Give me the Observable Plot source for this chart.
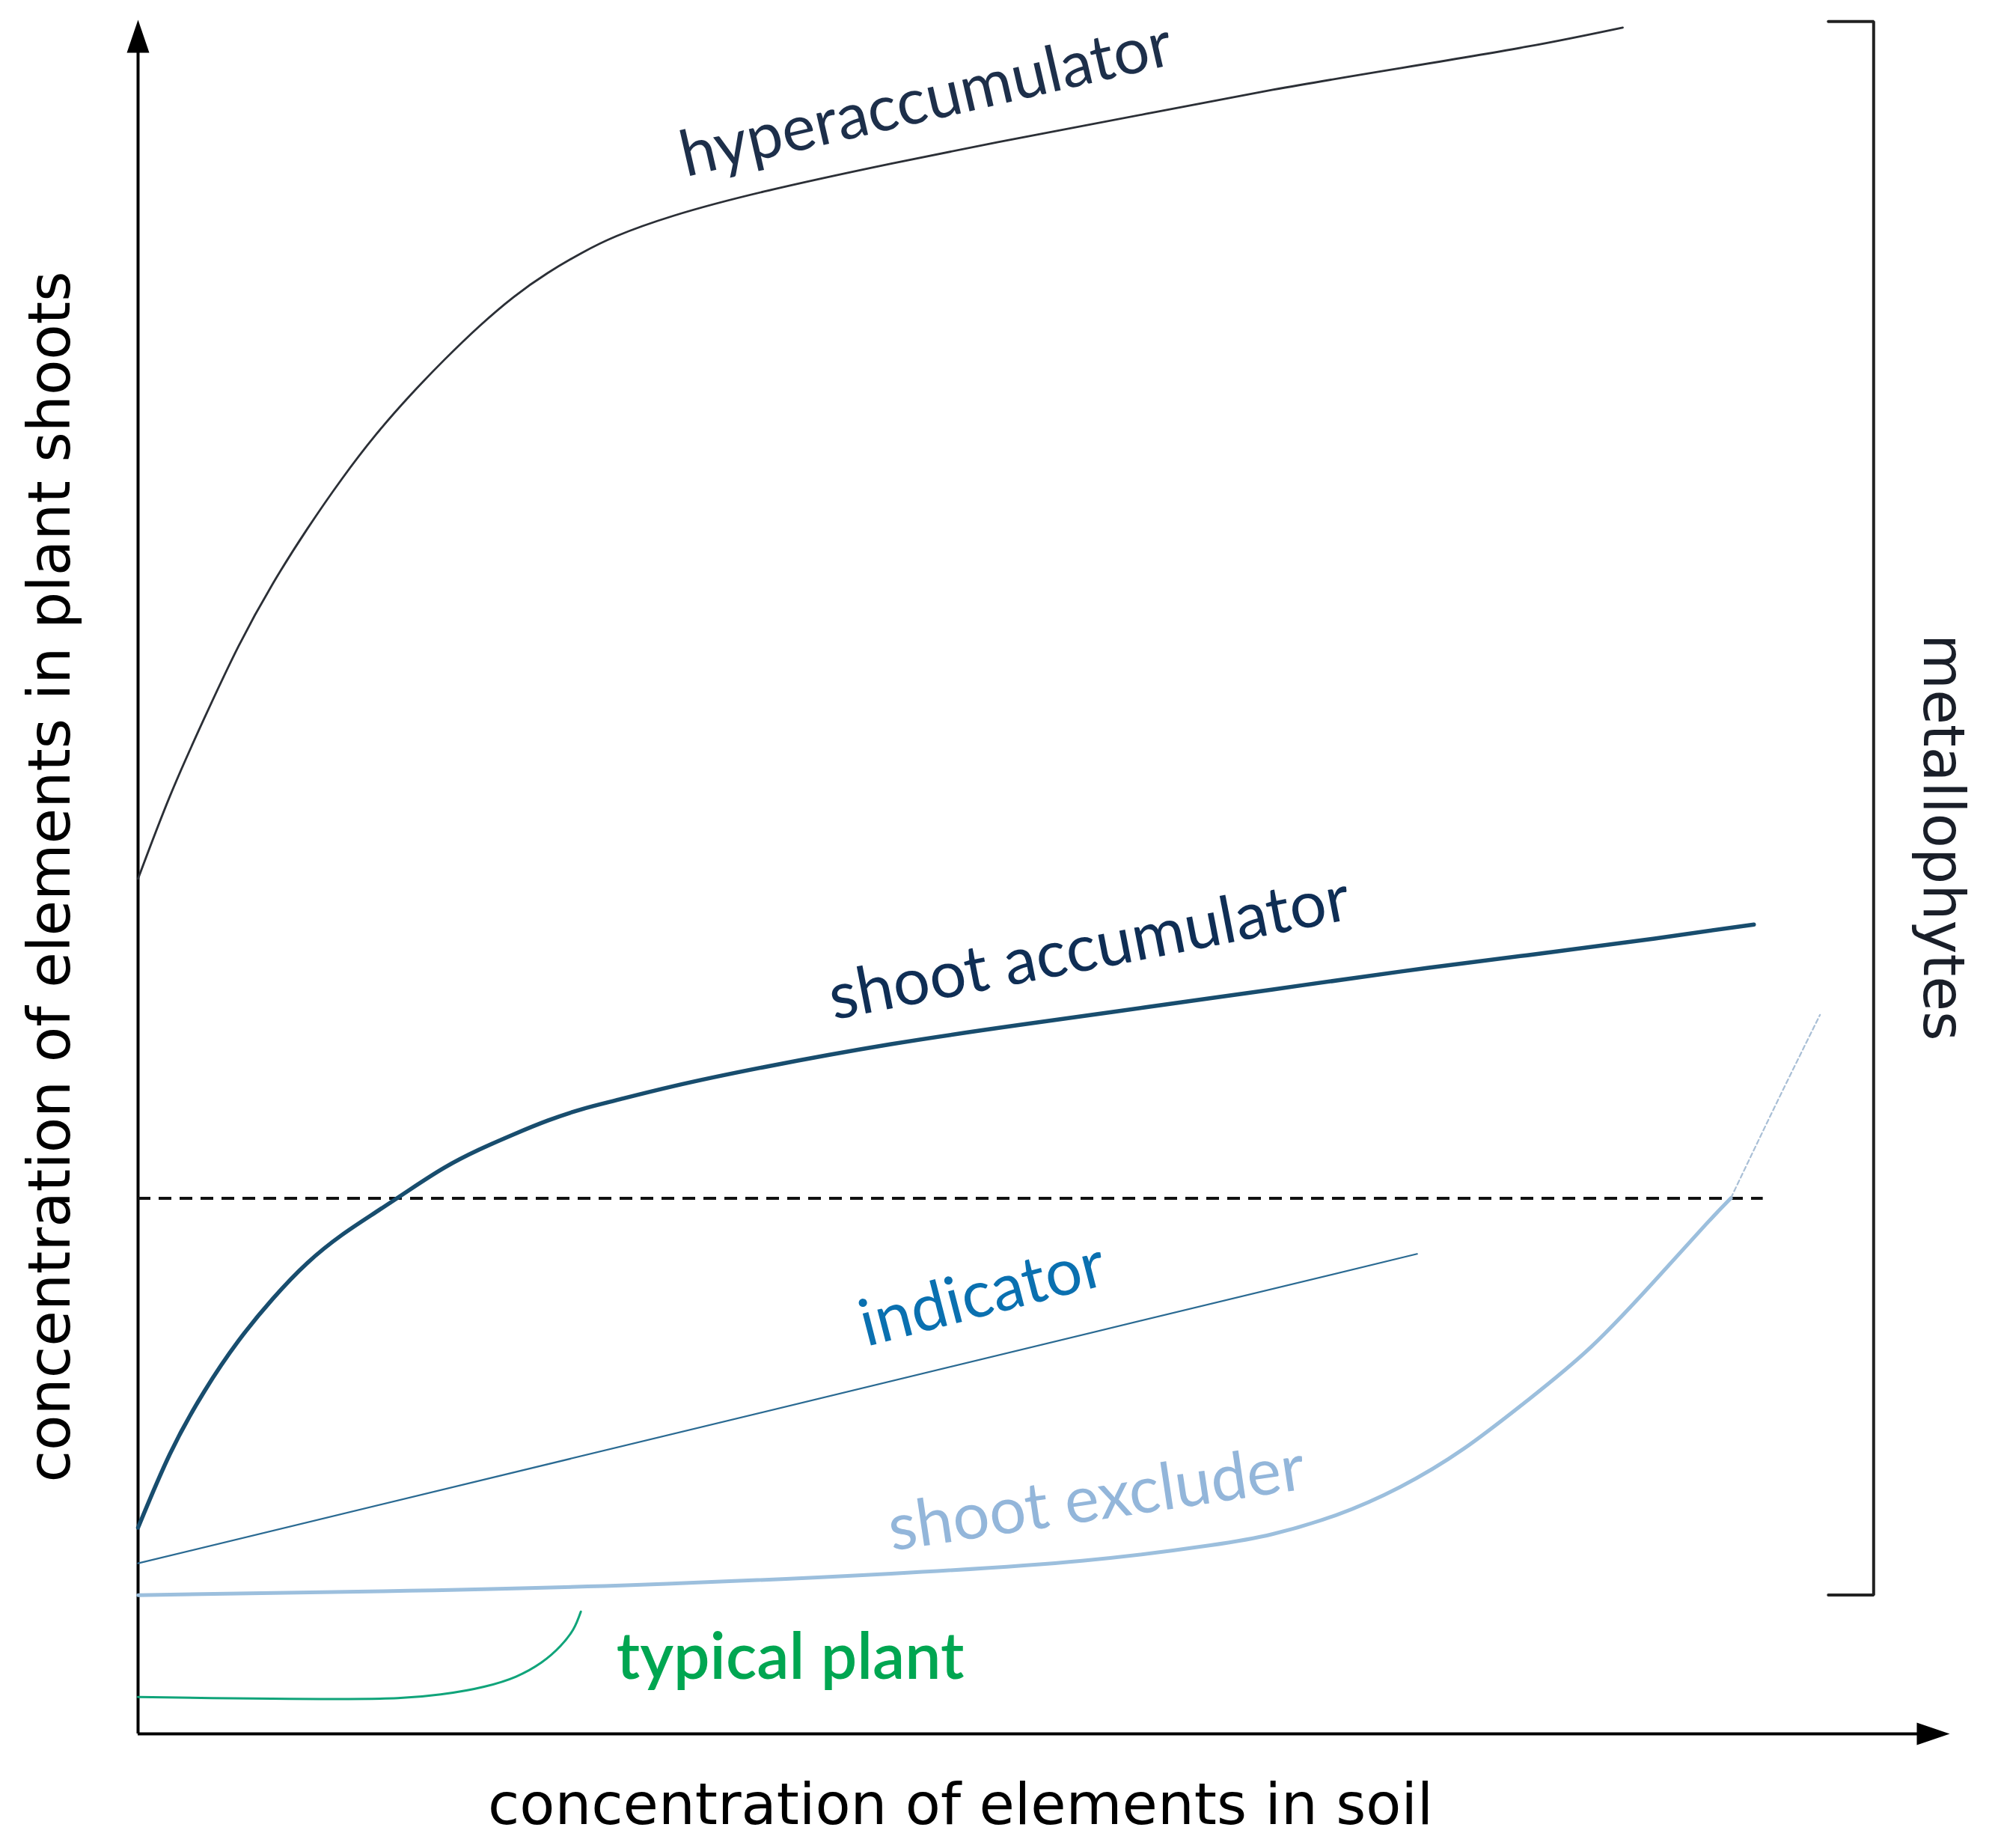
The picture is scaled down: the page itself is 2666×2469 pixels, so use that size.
<!DOCTYPE html>
<html>
<head>
<meta charset="utf-8">
<script src="https://cdn.jsdelivr.net/npm/d3@7"></script>
<script src="https://cdn.jsdelivr.net/npm/@observablehq/plot@0.6"></script>
<style>
  html, body { margin: 0; padding: 0; background: #ffffff; }
  #chart svg { display: block; }
</style>
</head>
<body>
<div id="chart"></div>
<script>
// ---- data (abstract units: 0..100 on both axes) ----
const hyperX = [0, 1.76, 3.65, 5.55, 7.44, 9.34, 11.24, 13.13, 15.03, 16.92, 18.82, 20.72, 22.61, 24.51, 26.40, 29.56, 34.55, 41.57, 48.60, 55.62, 62.64, 69.66, 76.69, 81.95];
const hyperY = [49.89, 54.71, 59.24, 63.47, 67.11, 70.30, 73.20, 75.80, 78.10, 80.18, 82.11, 83.82, 85.23, 86.41, 87.38, 88.57, 89.98, 91.61, 93.10, 94.51, 95.92, 97.18, 98.44, 99.55];

const accX = [0, 1.76, 3.65, 5.55, 7.44, 9.34, 11.24, 13.13, 15.03, 16.92, 18.82, 20.72, 22.61, 24.51, 26.40, 29.56, 34.55, 41.57, 48.60, 55.62, 62.64, 69.66, 76.69, 83.71, 89.19];
const accY = [12.03, 16.33, 19.97, 22.94, 25.39, 27.47, 29.10, 30.44, 31.77, 33.04, 34.08, 34.97, 35.78, 36.45, 36.97, 37.79, 38.90, 40.24, 41.35, 42.39, 43.43, 44.47, 45.43, 46.40, 47.22];

const indX = [0, 70.6];
const indY = [9.95, 28.0];

const exclX = [0, 13.48, 27.53, 41.57, 52.11, 59.13, 62.64, 66.15, 69.66, 73.17, 76.69, 80.20, 83.71, 86.52, 87.92];
const exclY = [8.09, 8.32, 8.69, 9.35, 10.10, 10.99, 11.66, 12.77, 14.40, 16.63, 19.45, 22.57, 26.43, 29.70, 31.26];
const exclExtX = [87.92, 90.38, 92.84];
const exclExtY = [31.26, 36.67, 41.95];

const typX = [0, 14.33, 16.71, 19.10, 20.86, 22.26, 23.31, 24.02, 24.44];
const typY = [2.15, 2.08, 2.30, 2.75, 3.34, 4.16, 5.12, 6.09, 7.13];

const thresholdY = 31.25;
const thresholdXEnd = 89.7;

const bracketX = [93.3, 95.8, 95.8, 93.3];
const bracketY = [99.9, 99.9, 8.1, 8.1];

const labels = ["hyperaccumulator", "shoot accumulator", "indicator", "shoot excluder", "typical plant"];
const labelX = [43.5, 52.5, 46.6, 52.9, 36.0];
const labelY = [95.3, 45.8, 25.6, 13.7, 4.4];

const xTitle = "concentration of elements in soil";
const yTitle = "concentration of elements in plant shoots";
const groupTitle = "metallophytes";

const pts = (xs, ys) => xs.map((x, i) => ({x, y: ys[i]}));

const arrowUp = {draw(ctx) { ctx.moveTo(0, 0); ctx.lineTo(-15, 44); ctx.lineTo(15, 44); ctx.closePath(); }};
const arrowRight = {draw(ctx) { ctx.moveTo(0, 0); ctx.lineTo(-44, -15); ctx.lineTo(-44, 15); ctx.closePath(); }};

const curveFont = "Lato, 'Open Sans', sans-serif";
const axisFont = "'DejaVu Sans', Verdana, sans-serif";

const chart = Plot.plot({
  width: 2666,
  height: 2469,
  marginLeft: 184,
  marginRight: 61,
  marginTop: 26,
  marginBottom: 153,
  x: {domain: [0, 100], axis: null},
  y: {domain: [0, 100], axis: null},
  style: {background: "#ffffff"},
  marks: [
    // axes
    Plot.ruleX([0], {y1: 0, y2: 98.5, stroke: "#000", strokeWidth: 4}),
    Plot.ruleY([0], {x1: 0, x2: 98.8, stroke: "#000", strokeWidth: 4}),
    Plot.dot([{x: 0, y: 100}], {x: "x", y: "y", symbol: arrowUp, fill: "#000", stroke: "none", r: 10}),
    Plot.dot([{x: 100, y: 0}], {x: "x", y: "y", symbol: arrowRight, fill: "#000", stroke: "none", r: 10}),
    // threshold
    Plot.ruleY([thresholdY], {x1: 0, x2: thresholdXEnd, stroke: "#111", strokeWidth: 4, strokeDasharray: "17,11"}),
    // curves
    Plot.line(pts(hyperX, hyperY), {x: "x", y: "y", curve: "natural", stroke: "#2b2f36", strokeWidth: 2.8}),
    Plot.line(pts(accX, accY), {x: "x", y: "y", curve: "natural", stroke: "#184d6e", strokeWidth: 5.5}),
    Plot.line(pts(indX, indY), {x: "x", y: "y", stroke: "#2a6a92", strokeWidth: 2.2}),
    Plot.line(pts(exclX, exclY), {x: "x", y: "y", curve: "natural", stroke: "#9cbfdd", strokeWidth: 5}),
    Plot.line(pts(exclExtX, exclExtY), {x: "x", y: "y", curve: "natural", stroke: "#a9bfd6", strokeWidth: 2.2, strokeDasharray: "6,4"}),
    Plot.line(pts(typX, typY), {x: "x", y: "y", curve: "catmull-rom", stroke: "#10a47a", strokeWidth: 3}),
    // bracket
    Plot.line(pts(bracketX, bracketY), {x: "x", y: "y", stroke: "#222", strokeWidth: 4, strokeLinejoin: "miter"}),
    // curve labels
    Plot.text([labels[0]], {x: labelX[0], y: labelY[0], text: d => d, rotate: -13, fontSize: 85, fontFamily: curveFont, fill: "#1d2f4a", textAnchor: "middle", lineAnchor: "middle"}),
    Plot.text([labels[1]], {x: labelX[1], y: labelY[1], text: d => d, rotate: -11, fontSize: 87, fontFamily: curveFont, fill: "#0f2e55", textAnchor: "middle", lineAnchor: "middle"}),
    Plot.text([labels[2]], {x: labelX[2], y: labelY[2], text: d => d, rotate: -14.5, fontSize: 87, fontFamily: curveFont, fill: "#0a70b0", textAnchor: "middle", lineAnchor: "middle"}),
    Plot.text([labels[3]], {x: labelX[3], y: labelY[3], text: d => d, rotate: -8.5, fontSize: 87, fontFamily: curveFont, fill: "#93b6da", textAnchor: "middle", lineAnchor: "middle"}),
    Plot.text([labels[4]], {x: labelX[4], y: labelY[4], text: d => d, fontSize: 86, fontFamily: curveFont, fontWeight: 600, fill: "#00a651", textAnchor: "middle", lineAnchor: "middle"}),
    // titles
    Plot.text([xTitle], {x: 45.4, y: -4.2, text: d => d, fontSize: 77, fontFamily: axisFont, fill: "#000", textAnchor: "middle", lineAnchor: "middle"}),
    Plot.text([yTitle], {x: -4.8, y: 50.0, text: d => d, rotate: -90, fontSize: 77.5, fontFamily: axisFont, fill: "#000", textAnchor: "middle", lineAnchor: "middle"}),
    Plot.text([groupTitle], {x: 99.6, y: 52.3, text: d => d, rotate: 90, fontSize: 76, fontFamily: axisFont, fill: "#1a1f29", textAnchor: "middle", lineAnchor: "middle"})
  ]
});
document.getElementById("chart").appendChild(chart);
</script>
</body>
</html>
